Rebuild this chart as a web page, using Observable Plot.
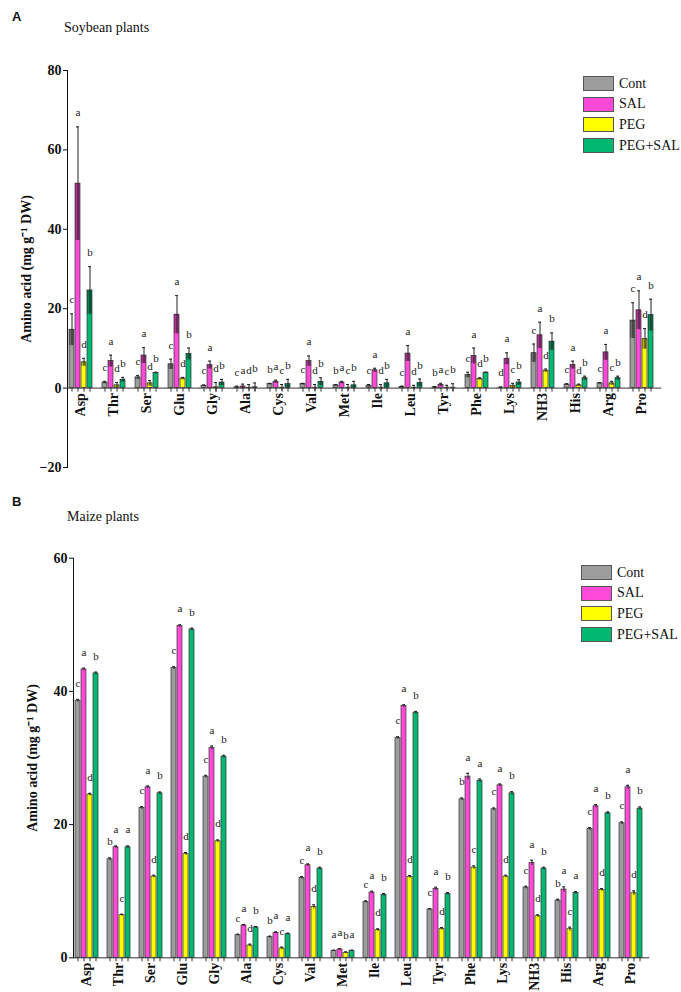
<!DOCTYPE html>
<html><head><meta charset="utf-8">
<script src="https://cdn.jsdelivr.net/npm/d3@7"></script>
<script src="https://cdn.jsdelivr.net/npm/@observablehq/plot@0.6"></script>
<style>
body{margin:0;background:#fff;width:681px;height:992px;position:relative;overflow:hidden;font-family:"Liberation Serif","Times New Roman",serif;color:#111;}
.panel{position:absolute;left:0;}
.tag{position:absolute;font-family:"Liberation Sans",Arial,sans-serif;font-weight:bold;font-size:13px;line-height:1;}
.title{position:absolute;font-size:14px;line-height:1;}
.legend{position:absolute;font-size:14px;line-height:1;}
.legend .row{display:flex;align-items:center;height:15px;margin-bottom:5.7px;}
.legend .sw{width:29px;height:13px;border:1px solid #555;margin-right:5px;}
</style></head>
<body>
<div class="tag" style="left:12px;top:10px">A</div>
<div class="title" style="left:64px;top:21px">Soybean plants</div>
<div id="chartA" class="panel" style="top:0"></div>
<div class="legend" id="legA" style="left:583px;top:76px"></div>
<div class="tag" style="left:12px;top:495px">B</div>
<div class="title" style="left:67px;top:510px">Maize plants</div>
<div id="chartB" class="panel" style="top:490px"></div>
<div class="legend" id="legB" style="left:581px;top:565px"></div>
<script>
const aminoAcids = ["Asp","Thr","Ser","Glu","Gly","Ala","Cys","Val","Met","Ile","Leu","Tyr","Phe","Lys","NH3","His","Arg","Pro"];
const treatments = ["Cont","SAL","PEG","PEG+SAL"];
const treatmentColors = ["#9d9d9d","#ff4ad8","#ffff00","#00b870"];
const yTitle = "Amino acid (mg g\u207B\u00B9 DW)";

// Soybean (panel A) means and errors
const soyCont    = [14.7,1.4,2.7,6.0,0.6,0.2,1.0,1.0,0.7,0.6,0.3,0.2,3.3,0.1,8.8,0.9,1.2,17.0];
const soySAL     = [51.5,6.8,8.2,18.5,5.8,0.4,1.6,6.8,1.4,4.5,8.7,0.8,8.1,7.4,13.3,5.8,9.0,19.6];
const soyPEG     = [6.5,0.7,1.2,2.4,0.2,0.1,0.1,0.1,0.1,0.1,0.1,0.1,2.3,0.6,4.4,0.7,1.2,12.4];
const soyPEGSAL  = [24.6,2.1,3.8,8.6,1.4,0.2,1.0,1.6,0.7,1.2,1.3,0.1,3.9,1.4,11.7,2.5,2.5,18.4];
const soyContErr   = [4.0,0.3,0.5,1.3,0.2,0.3,0.2,0.2,0.2,0.3,0.2,0.2,0.7,0.2,2.3,0.2,0.2,4.5];
const soySALErr    = [14.3,1.5,2.0,4.8,1.0,0.6,0.4,1.3,0.3,0.5,2.0,0.4,2.0,1.5,3.3,1.0,2.0,4.9];
const soyPEGErr    = [1.0,0.7,0.7,0.3,1.2,0.8,0.8,0.8,0.8,0.8,0.6,0.6,0.3,0.6,0.4,0.3,0.5,2.6];
const soyPEGSALErr = [6.0,0.6,0.2,1.5,0.8,1.1,1.2,1.0,1.0,1.0,1.0,1.0,0.1,0.7,2.2,0.5,0.5,4.0];
const soyContLetters   = ["c","c","c","c","c","c","b","c","b","c","c","b","c","d","c","c","c","c"];
const soySALLetters    = ["a","a","a","a","a","a","a","a","a","a","a","a","a","a","a","a","a","a"];
const soyPEGLetters    = ["d","d","d","d","d","d","c","d","c","d","d","c","d","c","d","d","c","d"];
const soyPEGSALLetters = ["b","b","b","b","b","b","b","b","b","b","b","b","b","b","b","b","b","b"];

// Maize (panel B) means and errors
const maizeCont   = [38.6,14.8,22.5,43.5,27.2,3.4,3.1,12.0,1.05,8.4,33.0,7.25,23.8,22.3,10.55,8.6,19.35,20.2];
const maizeSAL    = [43.3,16.6,25.6,49.8,31.5,4.85,3.75,13.9,1.25,9.8,37.8,10.35,27.2,25.9,14.25,10.25,22.75,25.6];
const maizePEG    = [24.5,6.4,12.2,15.6,17.5,1.85,1.4,7.65,0.75,4.15,12.15,4.35,13.55,12.2,6.25,4.3,10.2,9.7];
const maizePEGSAL = [42.7,16.6,24.7,49.3,30.2,4.55,3.55,13.4,1.05,9.45,36.8,9.6,26.6,24.7,13.4,9.75,21.7,22.4];
const maizeContErr   = [0.2,0.2,0.2,0.2,0.2,0.15,0.15,0.2,0.1,0.15,0.2,0.15,0.2,0.2,0.2,0.2,0.2,0.2];
const maizeSALErr    = [0.2,0.2,0.2,0.2,0.3,0.15,0.15,0.2,0.1,0.2,0.2,0.25,0.5,0.2,0.4,0.4,0.25,0.3];
const maizePEGErr    = [0.2,0.15,0.2,0.2,0.2,0.2,0.2,0.3,0.15,0.2,0.2,0.2,0.25,0.2,0.2,0.3,0.2,0.35];
const maizePEGSALErr = [0.2,0.2,0.2,0.2,0.2,0.15,0.15,0.2,0.1,0.2,0.2,0.2,0.25,0.25,0.2,0.2,0.2,0.25];
const maizeContLetters   = ["c","b","c","c","c","c","b","c","a","c","c","c","b","c","c","b","c","c"];
const maizeSALLetters    = ["a","a","a","a","a","a","a","a","a","a","a","a","a","a","a","a","a","a"];
const maizePEGLetters    = ["d","c","d","d","d","d","c","d","b","d","d","d","c","d","d","c","d","d"];
const maizePEGSALLetters = ["b","a","b","b","b","b","a","b","a","b","b","b","a","b","b","a","b","b"];

function buildRows(means, errs, letters) {
  const rows = [];
  aminoAcids.forEach((aa, i) => {
    treatments.forEach((t, j) => {
      rows.push({aa, trt: t, mean: means[j][i], err: errs[j][i], letter: letters[j][i]});
    });
  });
  return rows;
}

const rowsA = buildRows([soyCont, soySAL, soyPEG, soyPEGSAL],
  [soyContErr, soySALErr, soyPEGErr, soyPEGSALErr],
  [soyContLetters, soySALLetters, soyPEGLetters, soyPEGSALLetters]);
const rowsB = buildRows([maizeCont, maizeSAL, maizePEG, maizePEGSAL],
  [maizeContErr, maizeSALErr, maizePEGErr, maizePEGSALErr],
  [maizeContLetters, maizeSALLetters, maizePEGLetters, maizePEGSALLetters]);

function panel(rows, cfg) {
  return Plot.plot({
    width: 681, height: cfg.height,
    marginLeft: cfg.marginLeft, marginRight: cfg.marginRight,
    marginTop: cfg.marginTop, marginBottom: cfg.marginBottom,
    style: {fontFamily: "'Liberation Serif','Times New Roman',serif", fontWeight: "bold", fontSize: "14px", color: "#111", background: "transparent"},
    fx: {domain: aminoAcids, paddingInner: 0.19, paddingOuter: cfg.fxOuter, axis: null, label: null},
    x: {domain: treatments, paddingInner: 0.25, paddingOuter: 0.125, axis: null},
    y: {domain: cfg.yDomain, ticks: cfg.yTicks, tickSize: 4, tickPadding: 2, line: true,
        label: yTitle, labelAnchor: "center", labelOffset: 46, labelArrow: "none"},
    color: {domain: treatments, range: treatmentColors},
    marks: [
      Plot.barY(rows, {fx: "aa", x: "trt", y: "mean", fill: "trt", stroke: "#333", strokeWidth: 0.7}),
      cfg.shade ? Plot.barY(rows, {fx: "aa", x: "trt", y1: d => Math.max(0, d.mean - d.err), y2: "mean", fill: "#000", fillOpacity: 0.3}) : null,
      Plot.ruleX(rows, {fx: "aa", x: "trt", y1: d => d.mean - d.err, y2: d => d.mean + d.err, stroke: "#222", strokeWidth: 1}),
      Plot.tickY(rows, {fx: "aa", x: "trt", y: d => d.mean + d.err, stroke: "#222", strokeWidth: 1, insetLeft: 1, insetRight: 1}),
      Plot.ruleY([0], {stroke: "#333", strokeWidth: 1, insetRight: -6.3}),
      Plot.ruleX(rows, {fx: "aa", x: "trt", y1: () => 0, y2: () => 0, insetBottom: -4, stroke: "#333", strokeWidth: 1}),
      Plot.text(rows, {fx: "aa", x: "trt", y: d => d.mean + d.err, text: "letter", dy: cfg.letterDy, fontSize: 11, fontWeight: "normal", fill: "#222"}),
      Plot.text(aminoAcids, {fx: d => d, y: () => 0, text: d => d, rotate: -90, textAnchor: "end", dy: 5, fontSize: 14, fontWeight: "bold", fill: "#111"})
    ]
  });
}

document.getElementById("chartA").append(panel(rowsA, {
  height: 475, marginLeft: 66, marginRight: 24.6, marginTop: 70, marginBottom: 8,
  fxOuter: 0.04, yDomain: [-20, 80], yTicks: [-20, 0, 20, 40, 60, 80], shade: true, letterDy: -14
}));
document.getElementById("chartB").append(panel(rowsB, {
  height: 502, marginLeft: 65, marginRight: 29.3, marginTop: 67.7, marginBottom: 34.7,
  fxOuter: 0, yDomain: [0, 60], yTicks: [0, 20, 40, 60], shade: false, letterDy: -16
}));

function legend(id) {
  const el = document.getElementById(id);
  treatments.forEach((t, i) => {
    const row = document.createElement("div");
    row.className = "row";
    const sw = document.createElement("div");
    sw.className = "sw";
    sw.style.background = treatmentColors[i];
    const lab = document.createElement("span");
    lab.textContent = t;
    row.append(sw, lab);
    el.append(row);
  });
}
legend("legA");
legend("legB");
</script>
</body></html>
